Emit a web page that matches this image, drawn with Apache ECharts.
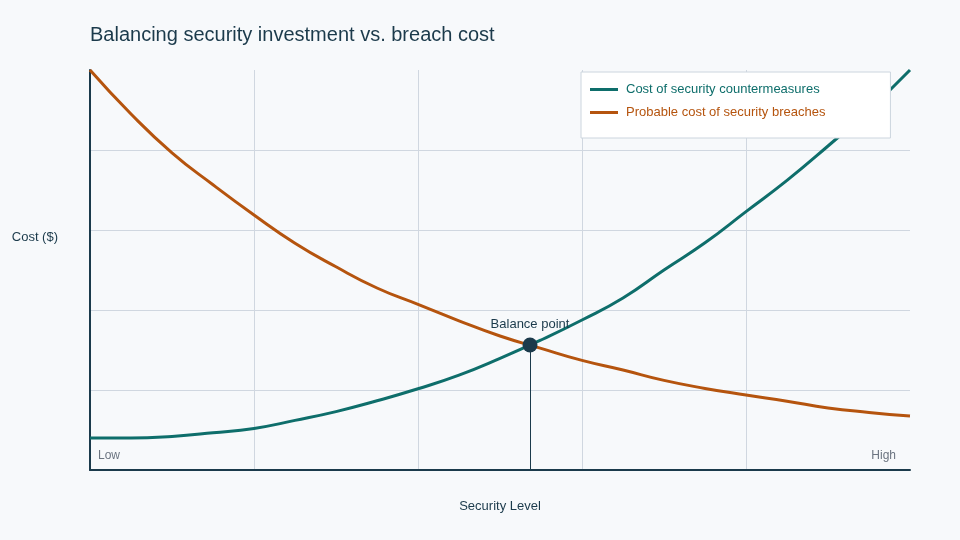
<!DOCTYPE html>
<html>
<head>
<meta charset="utf-8">
<script src="https://cdn.jsdelivr.net/npm/echarts@6/dist/echarts.min.js"></script>
<style>
html, body { margin: 0; padding: 0; background: #f7f9fb; }
#main { width: 960px; height: 540px; }
</style>
</head>
<body>
<div id="main"></div>
<script>
var levels = [0, 5, 10, 15, 20, 25, 30, 35, 40, 45, 50, 55, 60, 65, 70, 75, 80, 85, 90, 95, 100];
var countermeasures = [8, 8, 8.4, 9.3, 10.4, 12.4, 14.6, 17.3, 20.3, 23.7, 27.9, 32.5, 37.5, 43, 50, 56.8, 64.6, 72.4, 81, 90, 100];
var breaches = [100, 89, 79.3, 71.3, 63.75, 56.7, 50.8, 45.5, 41.4, 37.3, 33.5, 30.4, 27.4, 25, 22.4, 20.4, 18.75, 17.2, 15.5, 14.4, 13.5];
var balance = [53.66, 31.25];
var endLabels = { 0: 'Low', 100: 'High' };

var dark = '#1b3a4b';
var teal = '#0e6e6b';
var orange = '#b5540e';

function pairs(xs, ys) {
    var out = [];
    for (var i = 0; i < xs.length; i++) out.push([xs[i], ys[i]]);
    return out;
}

var myChart = echarts.init(document.getElementById('main'));

var option =
{
    backgroundColor: '#f7f9fb',
    animation: false,
    textStyle: { fontFamily: 'Liberation Sans, Arial, sans-serif' },
    title:
    {
        text: 'Balancing security investment vs. breach cost',
        left: 90,
        top: 25,
        padding: 0,
        textStyle: { color: dark, fontSize: 20, fontWeight: 'normal' }
    },
    legend:
    {
        orient: 'vertical',
        left: 581,
        top: 72,
        padding: [11, 65, 19, 9],
        backgroundColor: '#ffffff',
        borderColor: '#ccd5de',
        borderWidth: 1,
        icon: 'rect',
        itemWidth: 28,
        itemHeight: 3,
        itemGap: 10,
        textStyle: { color: 'inherit', fontSize: 13, padding: [0, 0, 0, 3] },
        data: ['Cost of security countermeasures', 'Probable cost of security breaches']
    },
    grid: { left: 90, right: 50, top: 70, bottom: 70 },
    xAxis:
    {
        type: 'value',
        min: 0,
        max: 100,
        interval: 20,
        name: 'Security Level',
        nameLocation: 'middle',
        nameGap: 30,
        nameTextStyle: { color: dark, fontSize: 13 },
        axisLine: { lineStyle: { color: dark, width: 2 } },
        axisTick: { show: false },
        axisLabel:
        {
            inside: true,
            margin: 8,
            alignMinLabel: 'left',
            alignMaxLabel: 'right',
            formatter: function (v) {
                if (v === 0) return '{lo|' + endLabels[0] + '}';
                if (v === 100) return '{hi|' + endLabels[100] + '}';
                return '';
            },
            rich:
            {
                lo: { color: '#6b7480', fontSize: 12, padding: [0, 0, 0, 8] },
                hi: { color: '#6b7480', fontSize: 12, padding: [0, 14, 0, 0] }
            }
        },
        splitLine: { show: true, showMinLine: false, showMaxLine: false, lineStyle: { color: '#d0d7e0', width: 1 } }
    },
    yAxis:
    {
        type: 'value',
        min: 0,
        max: 100,
        interval: 20,
        name: 'Cost ($)',
        nameLocation: 'middle',
        nameRotate: 0,
        nameGap: 32,
        nameTextStyle: { color: dark, fontSize: 13, verticalAlign: 'bottom', lineHeight: 66 },
        axisLine: { show: true, lineStyle: { color: dark, width: 2 } },
        axisTick: { show: false },
        axisLabel: { show: false },
        splitLine: { show: true, showMinLine: false, showMaxLine: false, lineStyle: { color: '#d0d7e0', width: 1 } }
    },
    series:
    [
        {
            name: 'Cost of security countermeasures',
            type: 'line',
            smooth: true,
            showSymbol: false,
            color: teal,
            lineStyle: { color: teal, width: 3 },
            data: pairs(levels, countermeasures),
            z: 3
        },
        {
            name: 'Probable cost of security breaches',
            type: 'line',
            smooth: true,
            showSymbol: false,
            color: orange,
            lineStyle: { color: orange, width: 3 },
            data: pairs(levels, breaches),
            z: 2
        },
        {
            name: 'Balance point',
            type: 'scatter',
            symbolSize: 15,
            itemStyle: { color: dark, opacity: 1 },
            label:
            {
                show: true,
                position: 'top',
                distance: 7,
                formatter: 'Balance point',
                color: dark,
                fontSize: 13
            },
            data: [balance],
            markLine:
            {
                silent: true,
                symbol: 'none',
                label: { show: false },
                lineStyle: { color: dark, width: 1, type: 'solid', opacity: 1 },
                data: [[{ coord: [balance[0], 0] }, { coord: [balance[0], balance[1]] }]]
            },
            z: 5
        }
    ]
};

myChart.setOption(option);
</script>
</body>
</html>
